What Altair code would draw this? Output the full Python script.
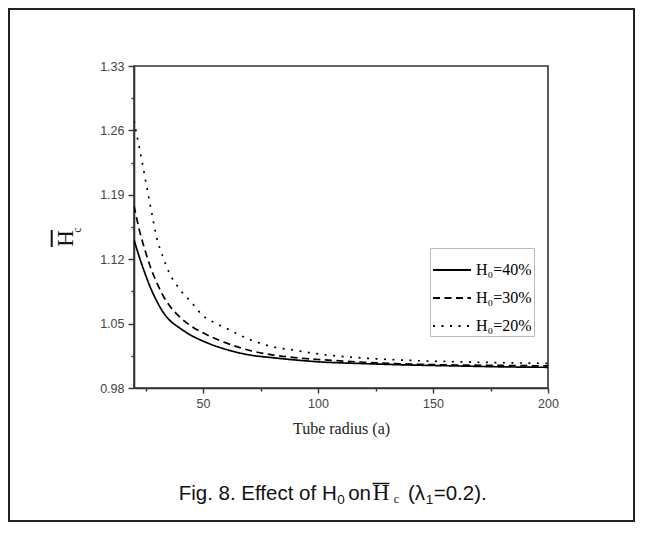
import altair as alt
import pandas as pd

# ---- data ----
radius = [20, 22.5, 25, 27.5, 30, 32.5, 35, 40, 45, 50, 55, 60, 70, 80, 90, 100, 120, 140, 160, 180, 200]
h0_40 = [1.141, 1.121, 1.103, 1.087, 1.074, 1.063, 1.055, 1.045, 1.037, 1.031, 1.026, 1.022, 1.016, 1.013,
         1.0105, 1.0085, 1.0065, 1.005, 1.004, 1.003, 1.0025]
h0_30 = [1.178, 1.150, 1.128, 1.109, 1.094, 1.081, 1.071, 1.057, 1.047, 1.040, 1.034, 1.029, 1.021, 1.016,
         1.013, 1.011, 1.008, 1.006, 1.005, 1.0045, 1.004]
h0_20 = [1.270, 1.239, 1.206, 1.173, 1.142, 1.123, 1.107, 1.087, 1.073, 1.0585, 1.051, 1.045, 1.033, 1.025,
         1.021, 1.017, 1.0125, 1.010, 1.0085, 1.0075, 1.0068]
series_labels = ["H\u2080=40%", "H\u2080=30%", "H\u2080=20%"]
x_ticks = [25, 50, 75, 100, 125, 150, 175, 200]
y_ticks = [0.98, 1.015, 1.05, 1.085, 1.12, 1.155, 1.19, 1.225, 1.26, 1.295, 1.33]

rows = []
for lab, vals in zip(series_labels, [h0_40, h0_30, h0_20]):
    for a, h in zip(radius, vals):
        rows.append({"a": a, "h": h, "series": lab})
df = pd.DataFrame(rows)

W, H = 414, 322
one = pd.DataFrame({"k": [0]})

x_axis = alt.Axis(
    values=x_ticks, labelExpr="datum.value % 50 == 0 ? datum.label : ''",
    tickSize={"condition": {"test": "datum.value % 50 == 0", "value": 5}, "value": 3},
    title="Tube radius (a)", titleFont="Liberation Serif", titleFontSize=16, titleFontWeight="normal",
    titleColor="#222", titleY=45, titleBaseline="alphabetic",
    labelFont="Liberation Sans", labelFontSize=12.5, labelColor="#444", labelPadding=4,
    labelOverlap=False, labelFlush=False, format="d",
    domainColor="#333", domainWidth=1.6, tickColor="#333", tickWidth=1.4, grid=False)

y_axis = alt.Axis(
    values=y_ticks,
    labelExpr="round(datum.value*1000) % 70 == 0 ? format(datum.value, '.2f') : ''",
    tickSize={"condition": {"test": "round(datum.value*1000) % 70 == 0", "value": 6}, "value": 3},
    title=None, labelFont="Liberation Sans", labelFontSize=12.5, labelColor="#444", labelPadding=4,
    labelOverlap=False, labelFlush=False,
    domainColor="#333", domainWidth=1.6, tickColor="#333", tickWidth=1.4, grid=False)

lines = alt.Chart(df).mark_line(color="black", strokeWidth=1.7, clip=True, interpolate="monotone").encode(
    x=alt.X("a:Q", scale=alt.Scale(domain=[20, 200], nice=False, zero=False), axis=x_axis),
    y=alt.Y("h:Q", scale=alt.Scale(domain=[0.98, 1.33], nice=False, zero=False), axis=y_axis),
    strokeDash=alt.StrokeDash(
        "series:N",
        scale=alt.Scale(domain=series_labels, range=[[1, 0], [7, 4.5], [2, 6.5]]),
        legend=alt.Legend(title=None, orient="none", legendX=296, legendY=182,
                          symbolType="stroke", symbolSize=1444, symbolStrokeWidth=1.8,
                          symbolStrokeColor="black", labelFont="Liberation Serif", labelFontSize=16,
                          labelColor="black", strokeColor="#bbb", fillColor="white",
                          padding=2, rowPadding=-1, labelOffset=4)),
    order=alt.Order("a:Q"),
)


def txt(s, x, y, size, font="Liberation Sans", align="left", angle=0):
    return alt.Chart(pd.DataFrame({"t": [s]})).mark_text(
        align=align, baseline="alphabetic", font=font, fontSize=size, color="#111",
        angle=angle, clip=False).encode(x=alt.value(x), y=alt.value(y), text="t:N")


def rule(x1, x2, y1, y2, w=1.5):
    return alt.Chart(one).mark_rule(color="#111", strokeWidth=w, clip=False).encode(
        x=alt.value(x1), x2=alt.value(x2), y=alt.value(y1), y2=alt.value(y2))


frame = alt.Chart(one).mark_rect(fillOpacity=0, stroke="#222", strokeWidth=2, clip=False).encode(
    x=alt.value(-125), x2=alt.value(500), y=alt.value(-57), y2=alt.value(455))

# y-axis title: H with overline and subscript c (rotated)
ytitle = [
    rule(-82.3, -82.3, 164, 181, 2),
    txt("H", -61.3, 172.5, 23, "Liberation Serif", "center", 270),
    txt("c", -52.8, 164, 12, "Liberation Serif", "center", 270),
]

# caption (x positions relative to plot origin at page x=134.3)
caption = [
    txt("Fig. 8. Effect of H", 202.7, 434, 20.5, align="right"),
    txt("0", 203.2, 438, 13.5),
    txt("on", 214.2, 434, 20.5),
    txt("H", 238.7, 434, 23, "Liberation Serif"),
    rule(238.4, 255.4, 417.5, 417.5, 1.5),
    txt("c", 259.7, 437, 12, "Liberation Serif"),
    txt("(\u03bb", 274.0, 434, 20.5),
    txt("1", 291.7, 438, 13.5),
    txt("=0.2).", 299.7, 434, 20.5),
]

chart = alt.layer(frame, lines, *ytitle, *caption).properties(
    width=W, height=H,
    autosize=alt.AutoSizeParams(type="none"),
    padding={"left": 126, "top": 58, "right": 88, "bottom": 137},
    background="white",
).configure_view(stroke="#333", strokeWidth=1.6)

chart.save("out.html", embed_options={"renderer": "svg", "actions": False})
